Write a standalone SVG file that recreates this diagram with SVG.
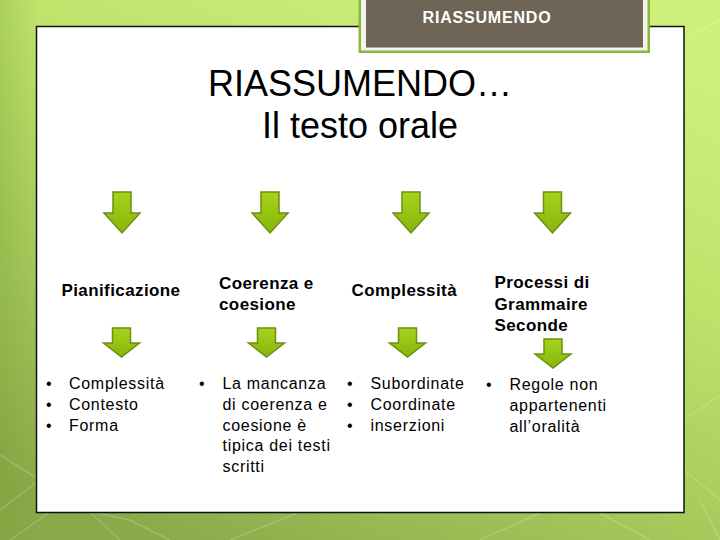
<svg xmlns="http://www.w3.org/2000/svg" width="720" height="540" viewBox="0 0 720 540">
  <defs>
    <linearGradient id="bg" x1="0.75" y1="0" x2="0.2" y2="1">
      <stop offset="0" stop-color="#cdf07a"/>
      <stop offset="0.35" stop-color="#bde26a"/>
      <stop offset="0.7" stop-color="#a3c65a"/>
      <stop offset="1" stop-color="#8aa94a"/>
    </linearGradient>
    <linearGradient id="leftShade" x1="0" y1="0" x2="1" y2="0">
      <stop offset="0" stop-color="#6f9a2a" stop-opacity="0.25"/>
      <stop offset="1" stop-color="#6f9a2a" stop-opacity="0"/>
    </linearGradient>
    <linearGradient id="arrowFill" x1="0" y1="0" x2="0" y2="1">
      <stop offset="0" stop-color="#a6d41c"/>
      <stop offset="1" stop-color="#86b40a"/>
    </linearGradient>
    <path id="arrowBig" d="M-9,0 H9 V21 H18 L0,41 L-18,21 H-9 Z"/>
    <path id="arrowSmall" d="M-9,0 H9 V15 H18 L0,29 L-18,15 H-9 Z"/>
  </defs>
  <style>
    .arrow { fill: url(#arrowFill); stroke: #6e8e12; stroke-width: 1.5; stroke-linejoin: miter; }
    .title { font-family: "Liberation Sans", Arial, sans-serif; font-size: 36px; fill: #000; text-anchor: middle; }
    .head { font-family: "Liberation Sans", Arial, sans-serif; font-size: 17px; font-weight: bold; fill: #000; letter-spacing: 0.4px; }
    .item { font-family: "Liberation Sans", Arial, sans-serif; font-size: 16px; fill: #000; letter-spacing: 0.7px; }
    .tab { font-family: "Liberation Sans", Arial, sans-serif; font-size: 16px; font-weight: bold; fill: #fff; letter-spacing: 0.8px; text-anchor: middle; }
    .deco { stroke: #ffffff; stroke-opacity: 0.18; stroke-width: 1.5; fill: none; }
  </style>

  <!-- background -->
  <rect x="0" y="0" width="720" height="540" fill="url(#bg)"/>
  <rect x="0" y="0" width="40" height="540" fill="url(#leftShade)"/>
  <g class="deco">
    <path d="M0,455 L40,480 L0,510"/>
    <path d="M10,540 L60,505 L130,520 L170,540"/>
    <path d="M90,512 L120,540"/>
    <path d="M230,540 L300,512"/>
    <path d="M480,540 L540,513"/>
    <path d="M600,513 L650,540"/>
    <path d="M684,420 L720,395"/>
    <path d="M684,470 L720,500"/>
    <path d="M700,500 L720,540"/>
    <path d="M684,40 L720,20"/>
  </g>

  <!-- content panel -->
  <rect id="panel" x="36.5" y="26.5" width="647.5" height="486" fill="#ffffff" stroke="#111111" stroke-width="1.5"/>

  <!-- tab -->
  <g id="tab">
    <rect x="358.5" y="-4" width="291.5" height="57" fill="#8db63c"/>
    <rect x="361" y="-4" width="286.5" height="54.5" fill="#f2f3ec"/>
    <rect x="366" y="-4" width="277" height="51.5" fill="#6e6556"/>
    <text class="tab" x="487" y="22.5">RIASSUMENDO</text>
  </g>

  <!-- title -->
  <g id="title">
    <text class="title" x="360" y="96">RIASSUMENDO…</text>
    <text class="title" x="360" y="138">Il testo orale</text>
  </g>

  <!-- connectors (block arrows) -->
  <g id="connectors">
    <use href="#arrowBig" class="arrow" x="122" y="192"/>
    <use href="#arrowBig" class="arrow" x="270" y="192"/>
    <use href="#arrowBig" class="arrow" x="411" y="192"/>
    <use href="#arrowBig" class="arrow" x="552.5" y="192"/>
    <use href="#arrowSmall" class="arrow" x="121.5" y="328"/>
    <use href="#arrowSmall" class="arrow" x="266.5" y="328"/>
    <use href="#arrowSmall" class="arrow" x="407.5" y="328"/>
    <use href="#arrowSmall" class="arrow" x="553" y="339"/>
  </g>

  <!-- column 1 -->
  <g id="node-pianificazione">
    <text class="head" x="61.5" y="296">Pianificazione</text>
  </g>
  <g id="node-list1">
    <text class="item" x="46" y="389">•</text>
    <text class="item" x="69" y="389">Complessità</text>
    <text class="item" x="46" y="410">•</text>
    <text class="item" x="69" y="410">Contesto</text>
    <text class="item" x="46" y="430.5">•</text>
    <text class="item" x="69" y="430.5">Forma</text>
  </g>

  <!-- column 2 -->
  <g id="node-coerenza">
    <text class="head" x="219" y="289">Coerenza e</text>
    <text class="head" x="219" y="309.5">coesione</text>
  </g>
  <g id="node-list2">
    <text class="item" x="199" y="389">•</text>
    <text class="item" x="222.5" y="389">La mancanza</text>
    <text class="item" x="222.5" y="410">di coerenza e</text>
    <text class="item" x="222.5" y="430.5">coesione è</text>
    <text class="item" x="222.5" y="451">tipica dei testi</text>
    <text class="item" x="222.5" y="472">scritti</text>
  </g>

  <!-- column 3 -->
  <g id="node-complessita">
    <text class="head" x="351.5" y="296">Complessità</text>
  </g>
  <g id="node-list3">
    <text class="item" x="347" y="389">•</text>
    <text class="item" x="370.5" y="389">Subordinate</text>
    <text class="item" x="347" y="410">•</text>
    <text class="item" x="370.5" y="410">Coordinate</text>
    <text class="item" x="347" y="430.5">•</text>
    <text class="item" x="370.5" y="430.5">inserzioni</text>
  </g>

  <!-- column 4 -->
  <g id="node-processi">
    <text class="head" x="494.5" y="288">Processi di</text>
    <text class="head" x="494.5" y="309.5">Grammaire</text>
    <text class="head" x="494.5" y="331">Seconde</text>
  </g>
  <g id="node-list4">
    <text class="item" x="486" y="390">•</text>
    <text class="item" x="509.5" y="390">Regole non</text>
    <text class="item" x="509.5" y="411">appartenenti</text>
    <text class="item" x="509.5" y="432">all’oralità</text>
  </g>
</svg>
